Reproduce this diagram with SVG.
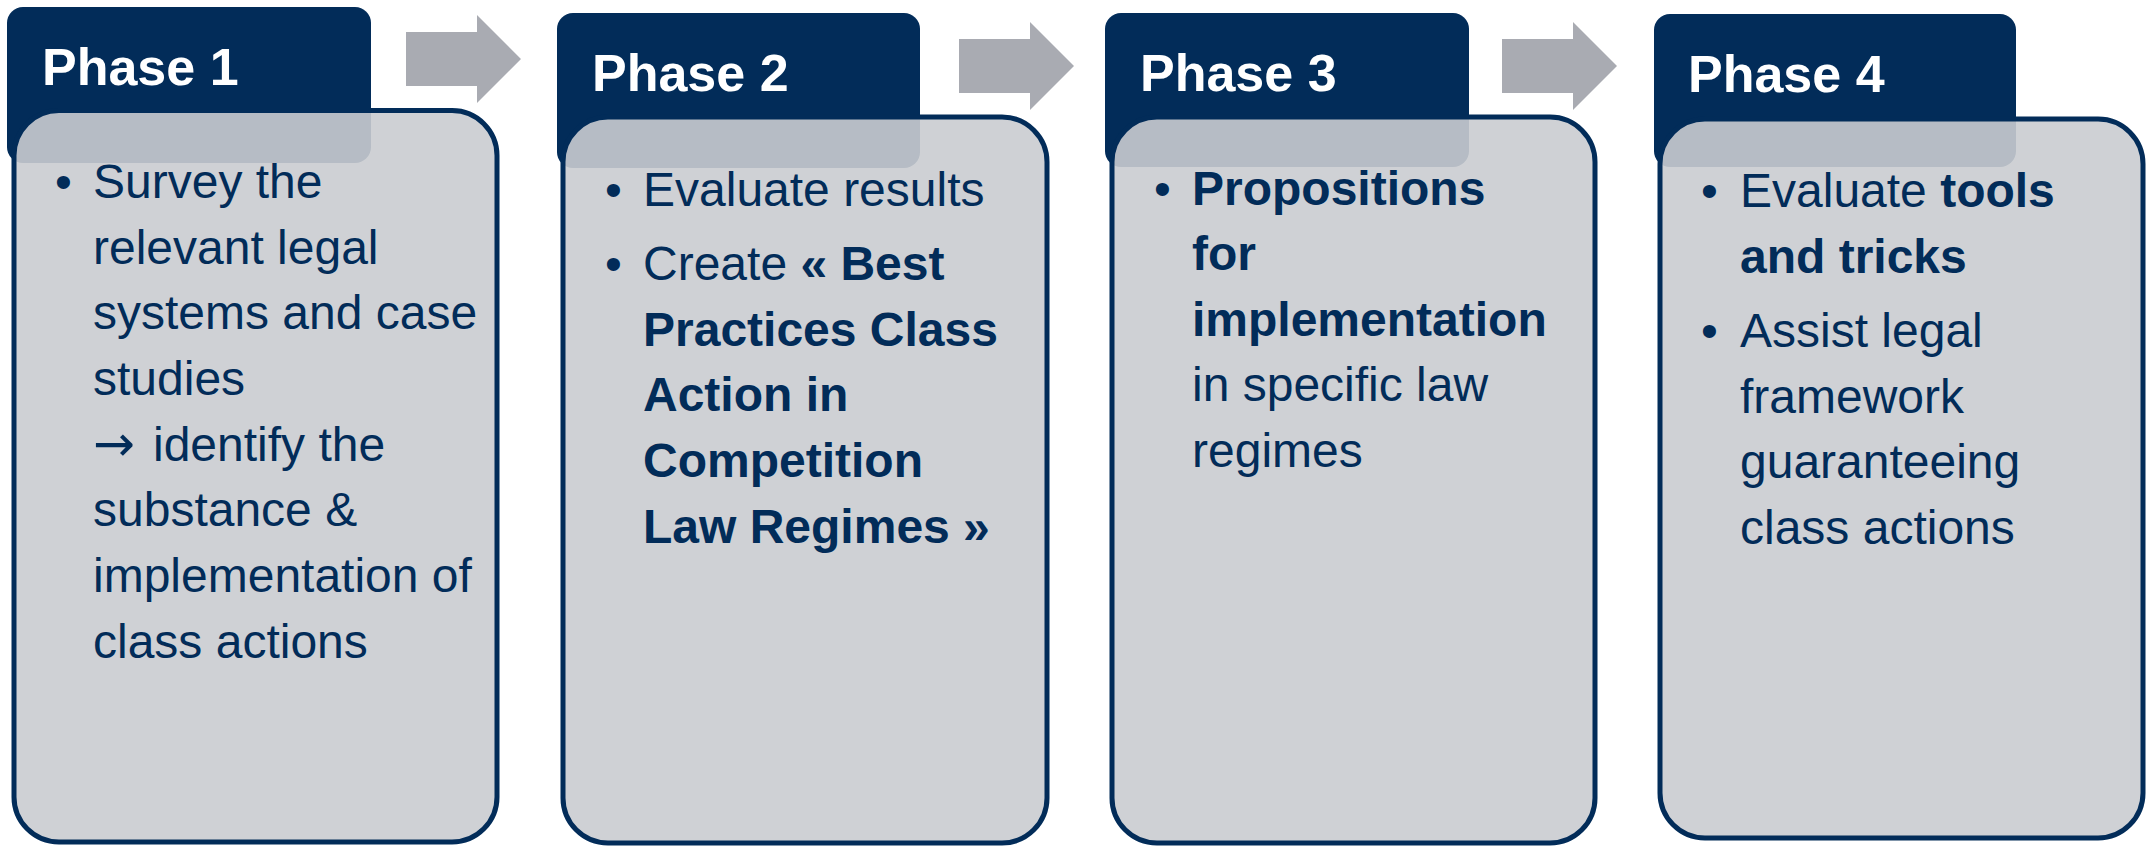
<svg xmlns="http://www.w3.org/2000/svg" width="2149" height="846" viewBox="0 0 2149 846">
  <style>
    .hdr { fill: #022c59; }
    .card { fill: rgb(202,204,208); fill-opacity: 0.9; stroke: #022c59; stroke-width: 5; }
    .flow { fill: #a9abb2; }
    .title { font-family: "Liberation Sans", Arial, sans-serif; font-size: 52px; font-weight: bold; fill: #ffffff; }
    .body { font-family: "Liberation Sans", Arial, sans-serif; font-size: 48px; fill: #022c59; }
    .b { font-weight: bold; }
    .sym { font-family: "DejaVu Sans", sans-serif; font-size: 50px; }
  </style>
  <rect width="2149" height="846" fill="#ffffff"/>

  <!-- flow arrows between phases -->
  <g id="connectors">
    <polygon class="flow" points="406,32 477,32 477,15 521,59 477,103 477,86 406,86"/>
    <polygon class="flow" points="959,39 1030,39 1030,22 1074,66 1030,110 1030,93 959,93"/>
    <polygon class="flow" points="1502,39 1573,39 1573,22 1617,66 1573,110 1573,93 1502,93"/>
  </g>

  <g id="phase1">
    <rect class="hdr" x="7" y="7" width="364" height="156" rx="16"/>
    <text class="title" x="42" y="85">Phase 1</text>
    <rect class="card" x="14" y="110.5" width="483" height="731.5" rx="45"/>
    <text class="body">
      <tspan x="55" y="198">•</tspan><tspan x="93" y="198">Survey the</tspan>
      <tspan x="93" y="264">relevant legal</tspan>
      <tspan x="93" y="329">systems and case</tspan>
      <tspan x="93" y="395">studies</tspan>
      <tspan class="sym" x="93" y="461">→</tspan><tspan x="153" y="461">identify the</tspan>
      <tspan x="93" y="526">substance &amp;</tspan>
      <tspan x="93" y="592">implementation of</tspan>
      <tspan x="93" y="658">class actions</tspan>
    </text>
  </g>

  <g id="phase2">
    <rect class="hdr" x="557" y="13" width="363" height="155" rx="16"/>
    <text class="title" x="592" y="91">Phase 2</text>
    <rect class="card" x="563" y="117" width="484" height="726" rx="45"/>
    <text class="body">
      <tspan x="605" y="206">•</tspan><tspan x="643" y="206">Evaluate results</tspan>
      <tspan x="605" y="280">•</tspan><tspan x="643" y="280">Create </tspan><tspan class="b">« Best</tspan>
      <tspan class="b" x="643" y="345.5">Practices Class</tspan>
      <tspan class="b" x="643" y="411">Action in</tspan>
      <tspan class="b" x="643" y="477">Competition</tspan>
      <tspan class="b" x="643" y="543">Law Regimes »</tspan>
    </text>
  </g>

  <g id="phase3">
    <rect class="hdr" x="1105" y="13" width="364" height="154" rx="16"/>
    <text class="title" x="1140" y="91">Phase 3</text>
    <rect class="card" x="1112" y="117" width="483" height="726" rx="45"/>
    <text class="body">
      <tspan x="1154" y="205">•</tspan><tspan class="b" x="1192" y="205">Propositions</tspan>
      <tspan class="b" x="1192" y="270">for</tspan>
      <tspan class="b" x="1192" y="335.5">implementation</tspan>
      <tspan x="1192" y="401">in specific law</tspan>
      <tspan x="1192" y="467">regimes</tspan>
    </text>
  </g>

  <g id="phase4">
    <rect class="hdr" x="1654" y="14" width="362" height="153" rx="16"/>
    <text class="title" x="1688" y="92">Phase 4</text>
    <rect class="card" x="1660" y="119" width="483" height="719" rx="45"/>
    <text class="body">
      <tspan x="1701" y="207">•</tspan><tspan x="1740" y="207">Evaluate </tspan><tspan class="b">tools</tspan>
      <tspan class="b" x="1740" y="273">and tricks</tspan>
      <tspan x="1701" y="347">•</tspan><tspan x="1740" y="347">Assist legal</tspan>
      <tspan x="1740" y="413">framework</tspan>
      <tspan x="1740" y="478">guaranteeing</tspan>
      <tspan x="1740" y="544">class actions</tspan>
    </text>
  </g>
</svg>
